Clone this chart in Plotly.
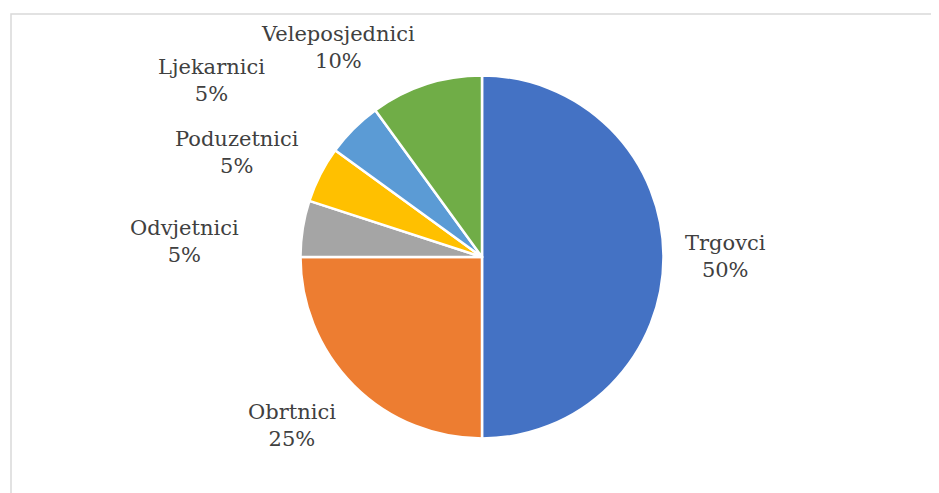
import plotly.graph_objects as go

categories = ["Trgovci", "Obrtnici", "Odvjetnici", "Poduzetnici", "Ljekarnici", "Veleposjednici"]
values = [50, 25, 5, 5, 5, 10]
colors = ["#4472C4", "#ED7D31", "#A5A5A5", "#FFC000", "#5B9BD5", "#70AD47"]

OFF = 8  # page body margin
W, H = 939 - OFF, 493 - OFF
# label centre positions in window pixels (layout only)
label_pos = [(725, 257), (292, 425), (184, 241), (237, 152), (211, 80), (338, 47)]


def px(x):
    return (x - OFF) / W


def py(y):
    return 1 - (y - OFF) / H


fig = go.Figure(go.Pie(
    labels=categories,
    values=values,
    sort=False,
    direction="clockwise",
    rotation=0,
    marker=dict(colors=colors, line=dict(color="white", width=2.5)),
    textinfo="none",
    hoverinfo="label+percent",
    showlegend=False,
    domain=dict(x=[px(300.5), px(663.5)], y=[py(438.5), py(75.5)]),
))

total = sum(values)
for cat, val, (lx, ly) in zip(categories, values, label_pos):
    fig.add_annotation(
        x=px(lx), y=py(ly), xref="paper", yref="paper",
        text=f"{cat}<br>{round(val / total * 100)}%",
        showarrow=False, xanchor="center", yanchor="middle",
        font=dict(family="DejaVu Serif", size=21, color="#404040"),
    )

fig.add_shape(type="rect", xref="paper", yref="paper",
              x0=px(11), x1=1.02, y0=-0.05, y1=py(14),
              line=dict(color="#D9D9D9", width=1.5), fillcolor="rgba(0,0,0,0)")

fig.update_layout(
    width=W, height=H,
    margin=dict(l=0, r=0, t=0, b=0),
    paper_bgcolor="white", plot_bgcolor="white",
)

fig.write_html("out.html")
